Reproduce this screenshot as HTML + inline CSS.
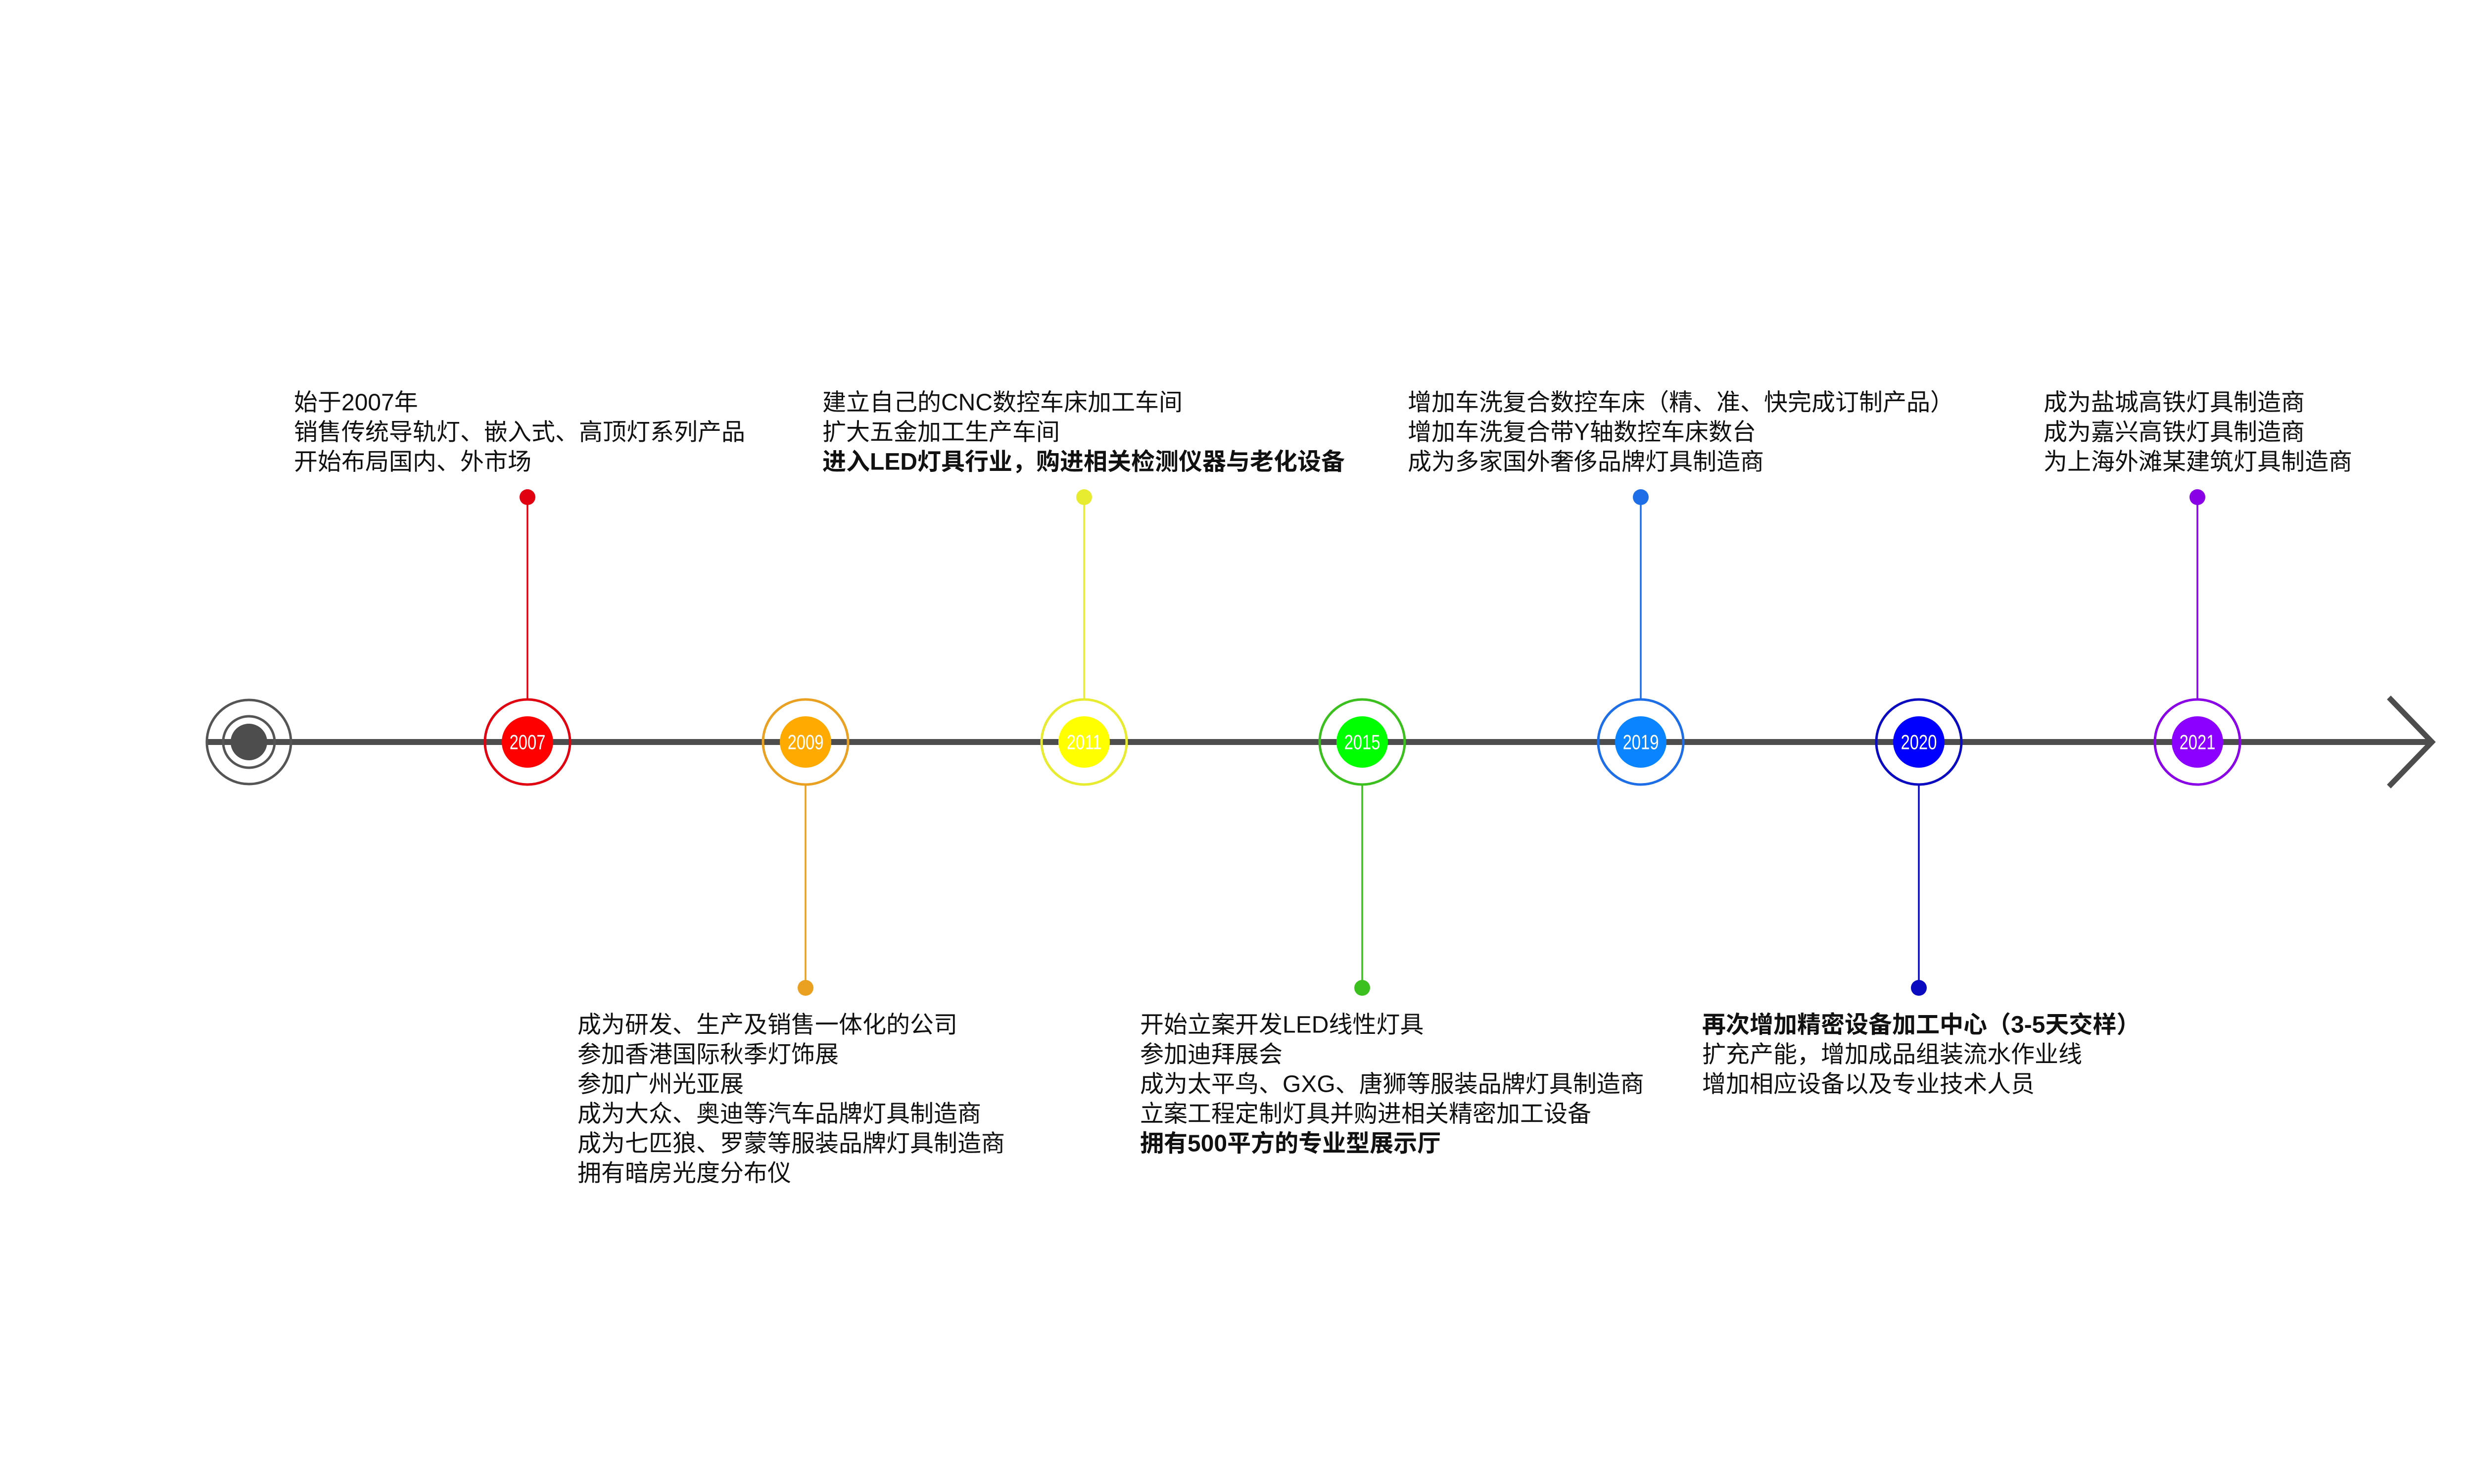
<!DOCTYPE html>
<html><head><meta charset="utf-8">
<style>
html,body{margin:0;padding:0;background:#fff;width:5334px;height:3000px;overflow:hidden;}
svg{display:block;}
.t{font-family:"Liberation Sans","Noto Sans CJK SC",sans-serif;font-size:48px;fill:#111;dominant-baseline:central;}
.b{font-weight:bold;}
.y{font-family:"Liberation Sans",sans-serif;font-size:42px;fill:#fff;text-anchor:middle;dominant-baseline:central;}
</style></head>
<body>
<svg width="5334" height="3000" viewBox="0 0 5334 3000" xmlns="http://www.w3.org/2000/svg">
<rect width="5334" height="3000" fill="#fff"/>
<line x1="420" y1="1500" x2="4915" y2="1500" stroke="#4d4d4d" stroke-width="12"/>
<polyline points="4828,1410 4915,1500 4828,1590" fill="none" stroke="#4d4d4d" stroke-width="11"/>
<circle cx="503" cy="1500" r="85" fill="none" stroke="#555" stroke-width="5"/>
<circle cx="503" cy="1500" r="52" fill="none" stroke="#555" stroke-width="5"/>
<circle cx="503" cy="1500" r="37" fill="#4d4d4d"/>

<g stroke-width="3.5">
<line x1="1066" y1="1005" x2="1066" y2="1413" stroke="#e00010"/>
<line x1="1628" y1="1587" x2="1628" y2="1997" stroke="#eaa020"/>
<line x1="2191" y1="1005" x2="2191" y2="1413" stroke="#e8ec30"/>
<line x1="2753" y1="1587" x2="2753" y2="1997" stroke="#3cc020"/>
<line x1="3316" y1="1005" x2="3316" y2="1413" stroke="#1e6ee8"/>
<line x1="3878" y1="1587" x2="3878" y2="1997" stroke="#0a0ac0"/>
<line x1="4441" y1="1005" x2="4441" y2="1413" stroke="#8a00e6"/>
</g>
<circle cx="1066" cy="1005" r="16" fill="#e00010"/>
<circle cx="1628" cy="1997" r="16" fill="#eaa020"/>
<circle cx="2191" cy="1005" r="16" fill="#e8ec30"/>
<circle cx="2753" cy="1997" r="16" fill="#3cc020"/>
<circle cx="3316" cy="1005" r="16" fill="#1e6ee8"/>
<circle cx="3878" cy="1997" r="16" fill="#0a0ac0"/>
<circle cx="4441" cy="1005" r="16" fill="#8a00e6"/>

<g stroke-width="5" fill="none">
<circle cx="1066" cy="1500" r="86" stroke="#e00010"/>
<circle cx="1628" cy="1500" r="86" stroke="#eaa020"/>
<circle cx="2191" cy="1500" r="86" stroke="#e8ec30"/>
<circle cx="2753" cy="1500" r="86" stroke="#3cc020"/>
<circle cx="3316" cy="1500" r="86" stroke="#1e6ee8"/>
<circle cx="3878" cy="1500" r="86" stroke="#0a0ac0"/>
<circle cx="4441" cy="1500" r="86" stroke="#8a00e6"/>
</g>
<circle cx="1066" cy="1500" r="52" fill="#ff0000"/>
<circle cx="1628" cy="1500" r="52" fill="#ffaa00"/>
<circle cx="2191" cy="1500" r="52" fill="#ffff00"/>
<circle cx="2753" cy="1500" r="52" fill="#00ff00"/>
<circle cx="3316" cy="1500" r="52" fill="#0a84ff"/>
<circle cx="3878" cy="1500" r="52" fill="#0000ff"/>
<circle cx="4441" cy="1500" r="52" fill="#8c00ff"/>

<g transform="translate(1066,1500) scale(0.78,1)"><text class="y" x="0" y="0">2007</text></g>
<g transform="translate(1628,1500) scale(0.78,1)"><text class="y" x="0" y="0">2009</text></g>
<g transform="translate(2191,1500) scale(0.78,1)"><text class="y" x="0" y="0">2011</text></g>
<g transform="translate(2753,1500) scale(0.78,1)"><text class="y" x="0" y="0">2015</text></g>
<g transform="translate(3316,1500) scale(0.78,1)"><text class="y" x="0" y="0">2019</text></g>
<g transform="translate(3878,1500) scale(0.78,1)"><text class="y" x="0" y="0">2020</text></g>
<g transform="translate(4441,1500) scale(0.78,1)"><text class="y" x="0" y="0">2021</text></g>

<text class="t" x="594" y="814">始于2007年</text>
<text class="t" x="594" y="874">销售传统导轨灯、嵌入式、高顶灯系列产品</text>
<text class="t" x="594" y="934">开始布局国内、外市场</text>

<text class="t" x="1662" y="814">建立自己的CNC数控车床加工车间</text>
<text class="t" x="1662" y="874">扩大五金加工生产车间</text>
<text class="t b" x="1662" y="934">进入LED灯具行业，购进相关检测仪器与老化设备</text>

<text class="t" x="2845" y="814">增加车洗复合数控车床（精、准、快完成订制产品）</text>
<text class="t" x="2845" y="874">增加车洗复合带Y轴数控车床数台</text>
<text class="t" x="2845" y="934">成为多家国外奢侈品牌灯具制造商</text>

<text class="t" x="4130" y="814">成为盐城高铁灯具制造商</text>
<text class="t" x="4130" y="874">成为嘉兴高铁灯具制造商</text>
<text class="t" x="4130" y="934">为上海外滩某建筑灯具制造商</text>

<text class="t" x="1167" y="2072">成为研发、生产及销售一体化的公司</text>
<text class="t" x="1167" y="2132">参加香港国际秋季灯饰展</text>
<text class="t" x="1167" y="2192">参加广州光亚展</text>
<text class="t" x="1167" y="2252">成为大众、奥迪等汽车品牌灯具制造商</text>
<text class="t" x="1167" y="2312">成为七匹狼、罗蒙等服装品牌灯具制造商</text>
<text class="t" x="1167" y="2372">拥有暗房光度分布仪</text>

<text class="t" x="2304" y="2072">开始立案开发LED线性灯具</text>
<text class="t" x="2304" y="2132">参加迪拜展会</text>
<text class="t" x="2304" y="2192">成为太平鸟、GXG、唐狮等服装品牌灯具制造商</text>
<text class="t" x="2304" y="2252">立案工程定制灯具并购进相关精密加工设备</text>
<text class="t b" x="2304" y="2312">拥有500平方的专业型展示厅</text>

<text class="t b" x="3440" y="2072">再次增加精密设备加工中心（3-5天交样）</text>
<text class="t" x="3440" y="2132">扩充产能，增加成品组装流水作业线</text>
<text class="t" x="3440" y="2192">增加相应设备以及专业技术人员</text>
</svg>
</body></html>
